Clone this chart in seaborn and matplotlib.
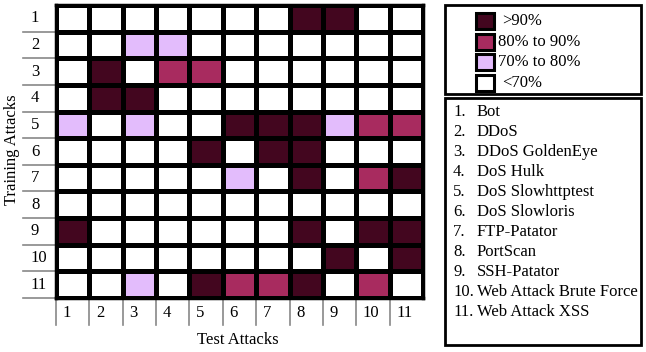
import numpy as np
import matplotlib
matplotlib.use("Agg")
import matplotlib.pyplot as plt
import seaborn as sns
from matplotlib.colors import ListedColormap
from matplotlib.patches import Rectangle

# ─── Data ─────────────────────────────────────────────────────────────────────
# level per cell: 0 = <70%, 1 = 70-80%, 2 = 80-90%, 3 = >90%
attack_ids = [str(i) for i in range(1, 12)]
attack_names = [
    "Bot", "DDoS", "DDoS GoldenEye", "DoS Hulk", "DoS Slowhttptest",
    "DoS Slowloris", "FTP-Patator", "PortScan", "SSH-Patator",
    "Web Attack Brute Force", "Web Attack XSS",
]
levels = [
    [0, 0, 0, 0, 0, 0, 0, 3, 3, 0, 0],
    [0, 0, 1, 1, 0, 0, 0, 0, 0, 0, 0],
    [0, 3, 0, 2, 2, 0, 0, 0, 0, 0, 0],
    [0, 3, 3, 0, 0, 0, 0, 0, 0, 0, 0],
    [1, 0, 1, 0, 0, 3, 3, 3, 1, 2, 2],
    [0, 0, 0, 0, 3, 0, 3, 3, 0, 0, 0],
    [0, 0, 0, 0, 0, 1, 0, 3, 0, 2, 3],
    [0, 0, 0, 0, 0, 0, 0, 0, 0, 0, 0],
    [3, 0, 0, 0, 0, 0, 0, 3, 0, 3, 3],
    [0, 0, 0, 0, 0, 0, 0, 0, 3, 0, 3],
    [0, 0, 1, 0, 3, 2, 2, 3, 0, 2, 0],
]
level_labels = ["<70%", "70% to 80%", "80% to 90%", ">90%"]
level_colors = ["#ffffff", "#e3bcfc", "#a82b5f", "#43061f"]

W, H = 646, 352
FS = 12
plt.rcParams["font.family"] = ["Liberation Serif", "DejaVu Serif"]

fig = plt.figure(figsize=(W / 100, H / 100), dpi=100)


def fx(px):
    return px / W


def fy(py):
    return 1 - py / H


# ─── Heatmap ──────────────────────────────────────────────────────────────────
gx0, gx1, gy0, gy1 = 56, 423, 5, 298
ax = fig.add_axes([fx(gx0), fy(gy1), fx(gx1) - fx(gx0), (gy1 - gy0) / H])
sns.heatmap(np.array(levels), cmap=ListedColormap(level_colors), vmin=-0.5, vmax=3.5,
            cbar=False, linewidths=2.2, linecolor="black", ax=ax,
            xticklabels=False, yticklabels=False)
for s in ax.spines.values():
    s.set_visible(True)
    s.set_linewidth(2.5)
    s.set_color("black")
ax.set_xticks([])
ax.set_yticks([])

n = len(attack_ids)
# row labels with grey separators
for i, lab in enumerate(attack_ids):
    ax.text(-0.75, i + 0.5, lab, ha="left", va="center", fontsize=FS,
            clip_on=False)
    ax.plot([-1.0, 0], [i + 1, i + 1], color="#888888", lw=1.2, clip_on=False)
# column labels with grey separators
for j, lab in enumerate(attack_ids):
    ax.text(j + 0.2, n + 0.55, lab, ha="left", va="center", fontsize=FS,
            clip_on=False)
    ax.plot([j, j], [n, n + 1.02], color="#888888", lw=1.2, clip_on=False)

fig.text(fx(12), fy(150), "Training Attacks", rotation=90, ha="center",
         va="center", fontsize=FS)
fig.text(fx(238), fy(340), "Test Attacks", ha="center", va="center",
         fontsize=FS)

# ─── Legend boxes ─────────────────────────────────────────────────────────────
fig.patches.append(Rectangle((fx(445), fy(94)), fx(641) - fx(445), (94 - 5) / H,
                             transform=fig.transFigure, fill=False,
                             edgecolor="black", lw=2))
fig.patches.append(Rectangle((fx(445), fy(345)), fx(641) - fx(445), (345 - 98) / H,
                             transform=fig.transFigure, fill=False,
                             edgecolor="black", lw=2))

legend_rows = list(zip(level_labels, level_colors))[::-1]
for k, (lab, col) in enumerate(legend_rows):
    yc = 21 + k * 20.7
    fig.patches.append(Rectangle((fx(476), fy(yc + 8)), fx(494) - fx(476), 16 / H,
                                 transform=fig.transFigure, facecolor=col,
                                 edgecolor="black", lw=2.2))
    tx = 502 if lab.startswith((">", "<")) else 498
    fig.text(fx(tx), fy(yc), lab, ha="left", va="center", fontsize=FS)

for k, name in enumerate(attack_names):
    yc = 112 + k * 20
    fig.text(fx(453), fy(yc), f"{k + 1}.", ha="left", va="center", fontsize=FS)
    fig.text(fx(477), fy(yc), name, ha="left", va="center", fontsize=FS)

fig.savefig("out.png", dpi=100)
